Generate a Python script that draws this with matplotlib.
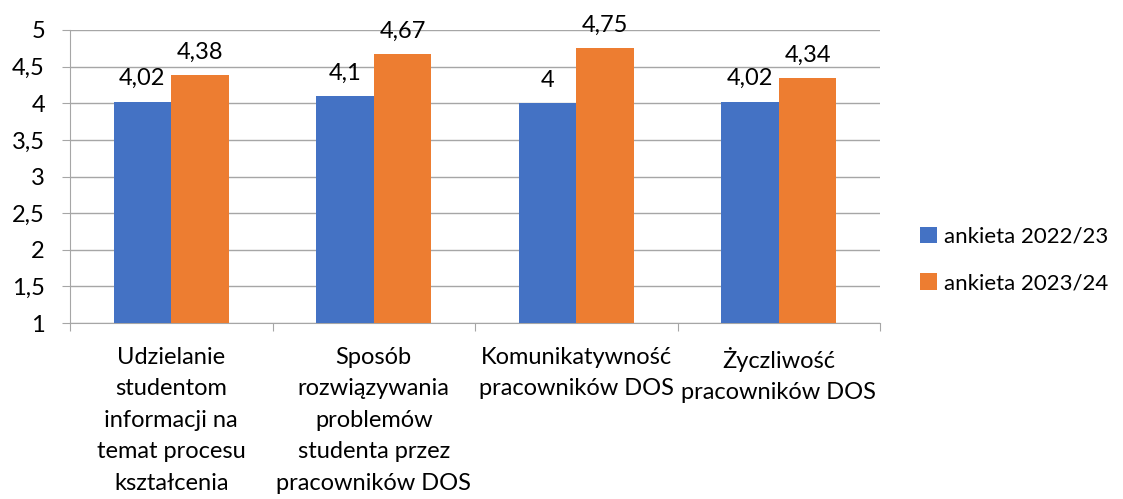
import matplotlib
matplotlib.use("Agg")
import matplotlib.pyplot as plt
import numpy as np
from matplotlib.patches import Patch

categories = ["Udzielanie\nstudentom\ninformacji na\ntemat procesu\nkształcenia",
              "Sposób\nrozwiązywania\nproblemów\nstudenta przez\npracowników DOS",
              "Komunikatywność\npracowników DOS",
              "Życzliwość\npracowników DOS"]
series_names = ["ankieta 2022/23", "ankieta 2023/24"]
values_2022 = [4.02, 4.1, 4.0, 4.02]
values_2023 = [4.38, 4.67, 4.75, 4.34]
value_labels_2022 = ["4,02", "4,1", "4", "4,02"]
value_labels_2023 = ["4,38", "4,67", "4,75", "4,34"]
yticks = [1, 1.5, 2, 2.5, 3, 3.5, 4, 4.5, 5]
ytick_labels = ["1", "1,5", "2", "2,5", "3", "3,5", "4", "4,5", "5"]

colors = ["#4472C4", "#ED7D31"]
grid_c = "#A6A6A6"
plt.rcParams['font.family'] = ['Lato', 'DejaVu Sans']
fs = 17

fig = plt.figure(figsize=(11.23, 4.99), dpi=100)
ax = fig.add_axes([70/1123, 1-323/499, 810/1123, 293/499])

x = np.arange(len(categories))
w = 0.285
b1 = ax.bar(x - w/2, np.array(values_2022) - 1, w, bottom=1, color=colors[0], zorder=3)
b2 = ax.bar(x + w/2, np.array(values_2023) - 1, w, bottom=1, color=colors[1], zorder=3)
for rect, lab in zip(b1, value_labels_2022):
    ax.annotate(lab, (rect.get_x() + rect.get_width()/2, rect.get_y() + rect.get_height()),
                xytext=(0, 9), textcoords="offset points", ha="center", va="bottom", fontsize=fs, color="#000000")
for rect, lab in zip(b2, value_labels_2023):
    ax.annotate(lab, (rect.get_x() + rect.get_width()/2, rect.get_y() + rect.get_height()),
                xytext=(0, 9), textcoords="offset points", ha="center", va="bottom", fontsize=fs, color="#000000")

ax.set_xlim(-0.5, len(categories) - 0.5)
ax.set_ylim(1, 5)
ax.set_yticks(yticks)
ax.set_yticklabels(ytick_labels, fontsize=fs)
ax.yaxis.grid(True, color=grid_c, linewidth=1, zorder=0)
ax.tick_params(axis="y", length=6, color=grid_c, pad=12)

ax.set_xticks(np.arange(-0.5, len(categories) + 0.5, 1))
ax.set_xticklabels([])
ax.tick_params(axis="x", length=6, color=grid_c)
ax.set_xticks(x, minor=True)
ax.set_xticklabels(categories, minor=True, fontsize=fs, linespacing=1.62, va="top")
ax.tick_params(axis="x", which="minor", length=0, pad=17)

for s in ["top", "right"]:
    ax.spines[s].set_visible(False)
ax.spines["left"].set_color(grid_c)
ax.spines["bottom"].set_color(grid_c)

handles = [Patch(facecolor=c) for c in colors]
fig.legend(handles, series_names, loc="center left", bbox_to_anchor=(920/1123, 1-260/499),
           frameon=False, fontsize=16, handlelength=0.75, handleheight=0.75, handletextpad=0.35,
           labelspacing=1.2, borderpad=0, borderaxespad=0)

fig.savefig("out.png", dpi=100)
